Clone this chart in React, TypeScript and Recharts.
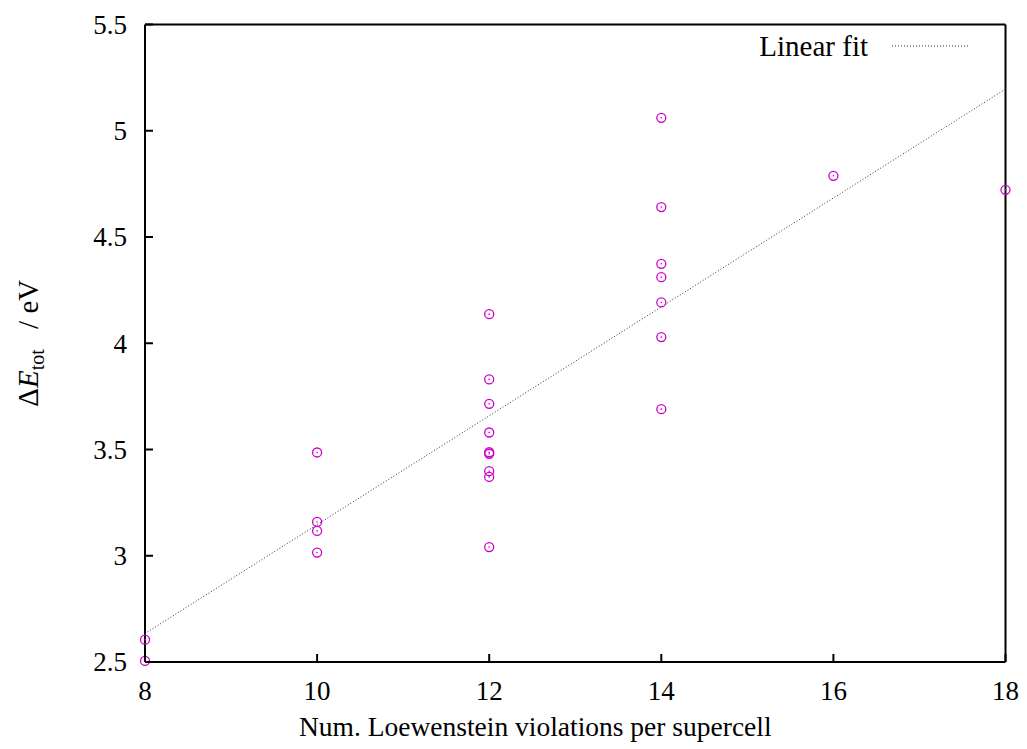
import React from 'react';
import { ScatterChart, Scatter, XAxis, YAxis, Legend, Label } from 'recharts';

const violations = [8, 8, 10, 10, 10, 10, 12, 12, 12, 12, 12, 12, 12, 12, 12, 14, 14, 14, 14, 14, 14, 14, 16, 18];
const energies = [2.605, 2.505, 3.486, 3.159, 3.117, 3.015, 4.137, 3.830, 3.715, 3.580, 3.487, 3.480, 3.398, 3.371, 3.041, 5.061, 4.641, 4.374, 4.311, 4.192, 4.029, 3.690, 4.788, 4.722];
const fitX = [8, 18];
const fitY = [2.634, 5.196];
const xTicks = [8, 10, 12, 14, 16, 18];
const yTicks = [2.5, 3, 3.5, 4, 4.5, 5, 5.5];

const points = violations.map((x, i) => ({ x, y: energies[i] }));
const fitLine = fitX.map((x, i) => ({ x, y: fitY[i] }));

const FONT = "'Liberation Serif', 'DejaVu Serif', serif";
const MAGENTA = '#cc00cc';
const TICK_LEN = 8;
const LABEL_GAP = 18;
const FS = 27;

const CircleDot = (props: any) => {
  const { cx, cy } = props;
  if (cx == null || cy == null) return <g />;
  return (
    <g>
      <circle cx={cx} cy={cy} r={4.5} fill="none" stroke={MAGENTA} strokeWidth={1.3} />
      <circle cx={cx} cy={cy} r={0.8} fill={MAGENTA} />
    </g>
  );
};

const Empty = () => <g />;

const LeftTick = (props: any) => {
  const { x, y, payload } = props;
  const ax = x + LABEL_GAP;
  return (
    <g>
      <line x1={ax} y1={y} x2={ax + TICK_LEN} y2={y} stroke="#000" strokeWidth={2} />
      <text x={x} y={y} dy="0.35em" textAnchor="end" fontFamily={FONT} fontSize={FS} fill="#000">
        {String(payload.value)}
      </text>
    </g>
  );
};

const RightTick = (props: any) => {
  const { x, y } = props;
  return <line x1={x} y1={y} x2={x - TICK_LEN} y2={y} stroke="#000" strokeWidth={2} />;
};

const BottomTick = (props: any) => {
  const { x, y, payload } = props;
  const ay = y - LABEL_GAP;
  return (
    <g>
      <line x1={x} y1={ay} x2={x} y2={ay - TICK_LEN} stroke="#000" strokeWidth={2} />
      <text x={x} y={y} dy="0.75em" textAnchor="middle" fontFamily={FONT} fontSize={FS} fill="#000">
        {String(payload.value)}
      </text>
    </g>
  );
};

const TopTick = (props: any) => {
  const { x, y } = props;
  return <line x1={x} y1={y} x2={x} y2={y + TICK_LEN} stroke="#000" strokeWidth={2} />;
};

const YLabel = (props: any) => {
  const vb = props.viewBox || { x: 0, y: 0, width: 145, height: 637 };
  const x = vb.x + 38;
  const y = vb.y + vb.height / 2;
  return (
    <text
      x={x}
      y={y}
      transform={`rotate(-90, ${x}, ${y})`}
      textAnchor="middle"
      fontFamily={FONT}
      fontSize={29}
      fill="#000"
    >
      <tspan>Δ</tspan>
      <tspan fontStyle="italic">E</tspan>
      <tspan fontSize={20} dy={6}>tot</tspan>
      <tspan dy={-6}>{'\u2002\u2009/ eV'}</tspan>
    </text>
  );
};

const XLabel = (props: any) => {
  const vb = props.viewBox || { x: 145, y: 662, width: 860, height: 87 };
  const x = vb.x + vb.width / 2 - 40;
  const y = vb.y + 74;
  return (
    <text x={x} y={y} textAnchor="middle" fontFamily={FONT} fontSize={27.5} fill="#000">
      Num. Loewenstein violations per supercell
    </text>
  );
};

const LegendContent = () => (
  <div
    style={{
      display: 'flex',
      justifyContent: 'flex-end',
      alignItems: 'center',
      fontFamily: FONT,
      fontSize: 29,
      color: '#000',
      lineHeight: '32px',
      width: '100%',
    }}
  >
    <span>Linear fit</span>
    <svg width={78} height={6} style={{ marginLeft: 24 }}>
      <line x1={0} y1={3} x2={78} y2={3} stroke="#333" strokeWidth={1} strokeDasharray="1 2" />
    </svg>
  </div>
);

const axisLineStyle = { stroke: '#000', strokeWidth: 2 };

export default function App() {
  return (
    <div style={{ position: 'absolute', left: 0, top: 0, width: 1027, height: 749, background: '#fff' }}>
      <ScatterChart width={1027} height={749} margin={{ top: 23.5, right: 20.5, bottom: 0, left: 0 }}>
        <XAxis
          xAxisId="b"
          dataKey="x"
          type="number"
          domain={[8, 18]}
          ticks={xTicks}
          orientation="bottom"
          height={87}
          tickSize={0}
          tickMargin={LABEL_GAP}
          tick={<BottomTick />}
          tickLine={false}
          axisLine={axisLineStyle}
        >
          <Label content={<XLabel />} />
        </XAxis>
        <XAxis
          xAxisId="t"
          dataKey="x"
          type="number"
          domain={[8, 18]}
          ticks={xTicks}
          orientation="top"
          height={1}
          tickSize={0}
          tickMargin={0}
          tick={<TopTick />}
          tickLine={false}
          axisLine={axisLineStyle}
        />
        <YAxis
          yAxisId="l"
          dataKey="y"
          type="number"
          domain={[2.5, 5.5]}
          ticks={yTicks}
          orientation="left"
          width={145}
          tickSize={0}
          tickMargin={LABEL_GAP}
          tick={<LeftTick />}
          tickLine={false}
          axisLine={axisLineStyle}
        >
          <Label content={<YLabel />} />
        </YAxis>
        <YAxis
          yAxisId="r"
          dataKey="y"
          type="number"
          domain={[2.5, 5.5]}
          ticks={yTicks}
          orientation="right"
          width={1}
          tickSize={0}
          tickMargin={0}
          tick={<RightTick />}
          tickLine={false}
          axisLine={axisLineStyle}
        />
        <Legend
          layout="horizontal"
          verticalAlign="middle"
          align="center"
          wrapperStyle={{ top: 30, left: 640, width: 330, height: 32 }}
          content={<LegendContent />}
        />
        <Scatter
          xAxisId="b"
          yAxisId="l"
          data={fitLine}
          line={{ stroke: '#333', strokeWidth: 1, strokeDasharray: '1 2' }}
          shape={<Empty />}
          isAnimationActive={false}
          legendType="none"
        />
        <Scatter
          xAxisId="b"
          yAxisId="l"
          data={points}
          shape={<CircleDot />}
          isAnimationActive={false}
          legendType="none"
        />
      </ScatterChart>
    </div>
  );
}
